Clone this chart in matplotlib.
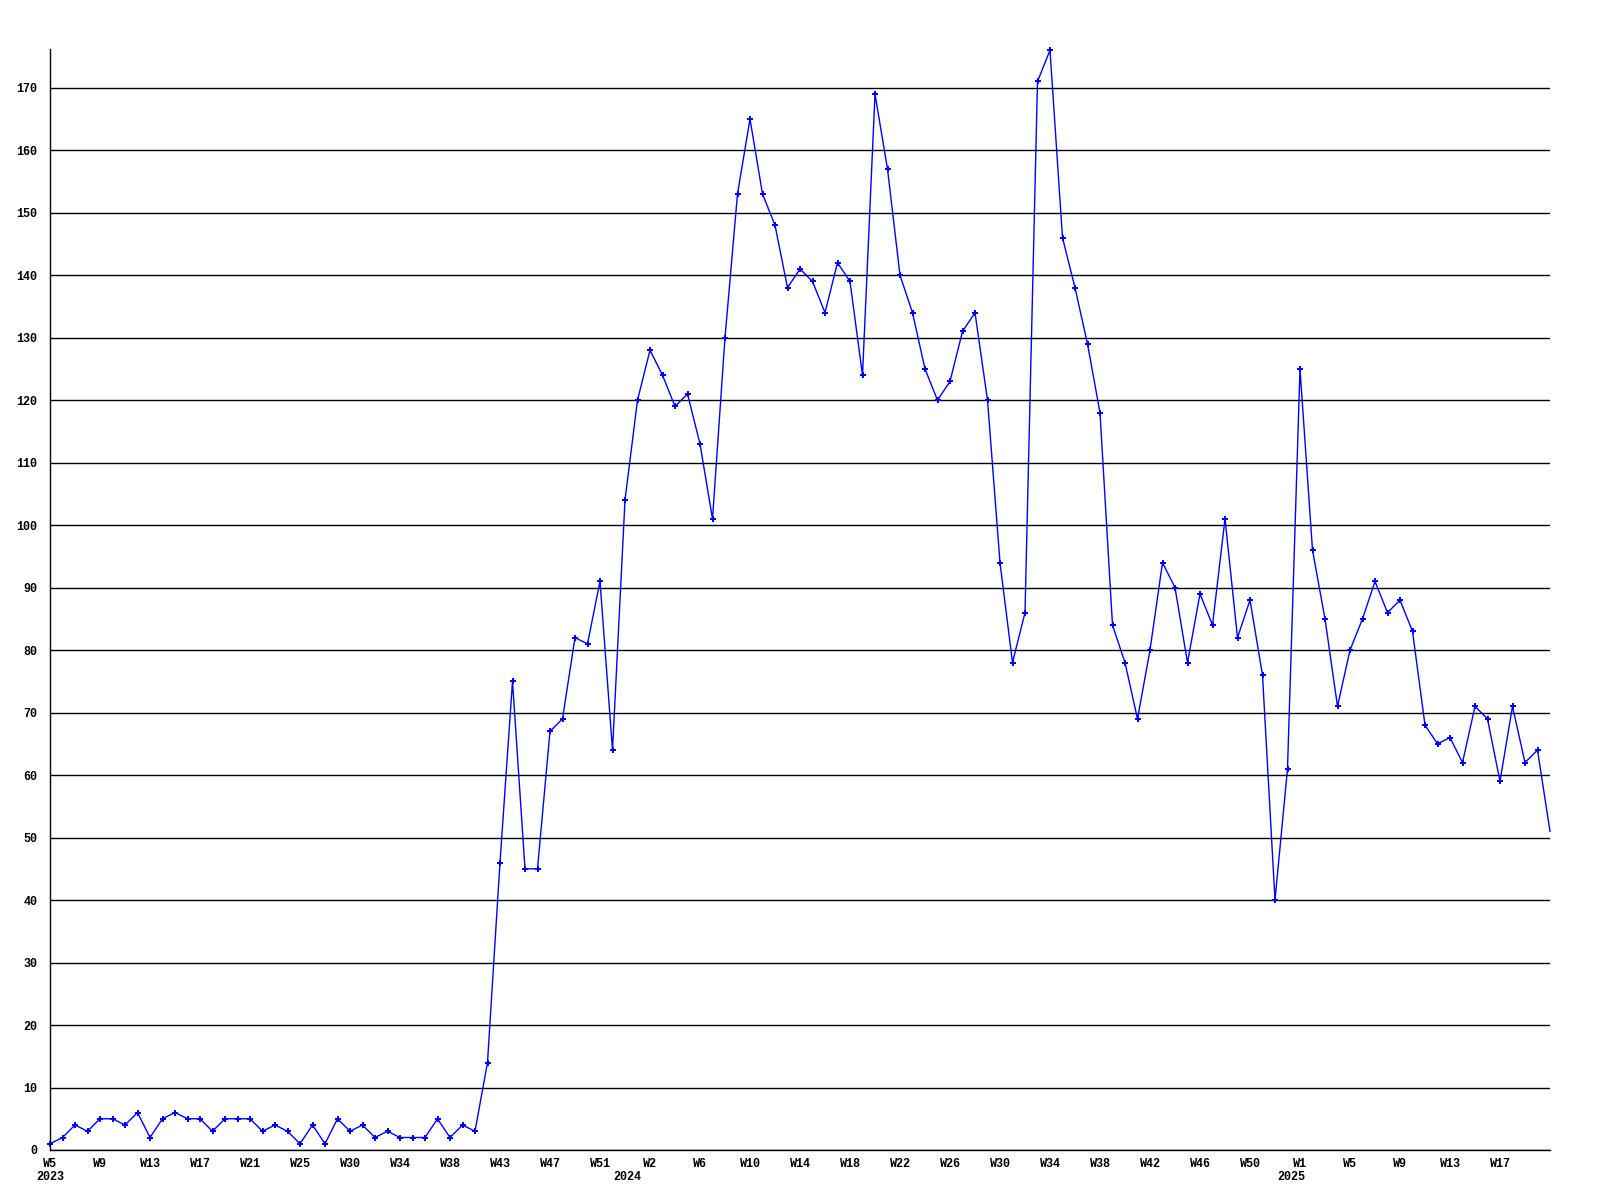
import numpy as np
import matplotlib
matplotlib.use("Agg")
import matplotlib.pyplot as plt
import matplotlib.transforms as mtransforms

# weekly counts, 2023 W5 .. 2025 W21 (one point per plotted week)
values = [
    1, 2, 4, 3, 5, 5, 4, 6, 2, 5, 6, 5, 5, 3, 5, 5, 5, 3, 4, 3,
    1, 4, 1, 5, 3, 4, 2, 3, 2, 2, 2, 5, 2, 4, 3, 14, 46, 75, 45, 45,
    67, 69, 82, 81, 91, 64, 104, 120, 128, 124, 119, 121, 113, 101, 130, 153, 165, 153, 148, 138,
    141, 139, 134, 142, 139, 124, 169, 157, 140, 134, 125, 120, 123, 131, 134, 120, 94, 78, 86, 171,
    176, 146, 138, 129, 118, 84, 78, 69, 80, 94, 90, 78, 89, 84, 101, 82, 88, 76, 40, 61,
    125, 96, 85, 71, 80, 85, 91, 86, 88, 83, 68, 65, 66, 62, 71, 69, 59, 71, 62, 64,
    51,
]

week_labels = ["W5", "W9", "W13", "W17", "W21", "W25", "W30", "W34", "W38", "W43",
               "W47", "W51", "W2", "W6", "W10", "W14", "W18", "W22", "W26", "W30",
               "W34", "W38", "W42", "W46", "W50", "W1", "W5", "W9", "W13", "W17"]
year_labels = ["2023", "2024", "2025"]
year_pos = [0, 46.2, 99.3]

font = {"family": "Liberation Mono", "weight": "bold", "size": 8.5}

x = np.arange(len(values))

fig = plt.figure(figsize=(16, 12), dpi=100)
ax = fig.add_axes([50 / 1600, 50 / 1200, 1500 / 1600, 1101 / 1200])

ax.plot(x, values, color="#0000ff", linewidth=1.0, marker="P", markersize=5,
        markeredgewidth=0, markevery=list(range(len(values) - 1)), clip_on=False)

ax.set_xlim(0, len(values) - 1)
ax.set_ylim(0, 176.2)

ax.set_yticks(np.arange(0, 171, 10))
ax.set_yticklabels([str(v) for v in range(0, 171, 10)], fontdict=font)
ax.set_xticks(np.arange(0, 4 * len(week_labels), 4))
ax.set_xticklabels(week_labels, fontdict=font)
ax.tick_params(axis="both", length=0)
ax.tick_params(axis="y", pad=9)
ax.tick_params(axis="x", pad=6)

ax.grid(axis="y", color="black", linewidth=1.0)
ax.set_axisbelow(True)
for s in ["top", "right"]:
    ax.spines[s].set_visible(False)
for s in ["left", "bottom"]:
    ax.spines[s].set_color("black")
    ax.spines[s].set_linewidth(1.0)

trans = mtransforms.blended_transform_factory(ax.transData, ax.transAxes)
for lab, pos in zip(year_labels, year_pos):
    ax.text(pos, -0.0245, lab, transform=trans, ha="center", va="center",
            clip_on=False, **font)

fig.savefig("out.png", dpi=100)
